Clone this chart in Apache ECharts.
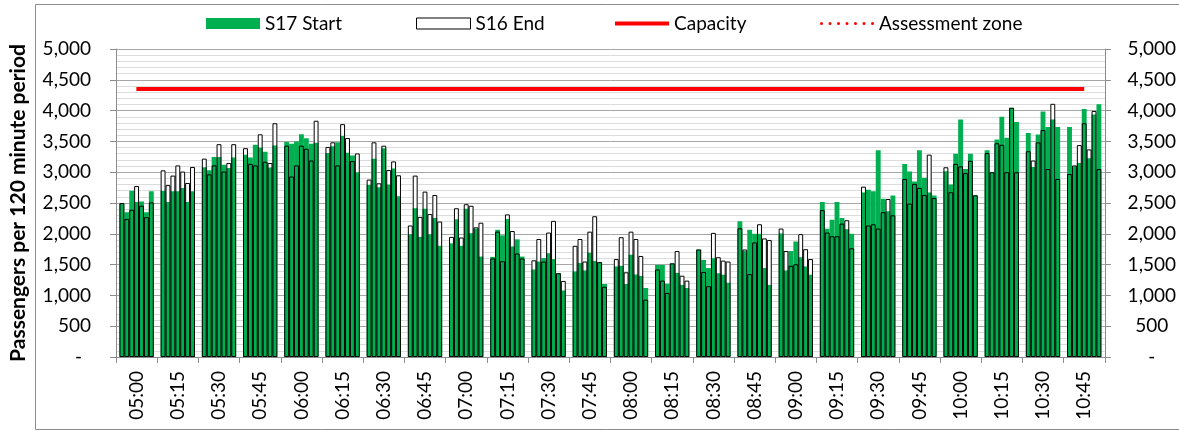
<!DOCTYPE html>
<html>
<head>
<meta charset="utf-8">
<script src="https://cdn.jsdelivr.net/npm/echarts@6/dist/echarts.min.js"></script>
<style>
  html, body { margin: 0; padding: 0; background: #fff; }
  #chart { width: 1179px; height: 431px; }
</style>
</head>
<body>
<div id="chart"></div>
<script>
// Quarter-hour slots on the time axis
const timeLabels = ['05:00','05:15','05:30','05:45','06:00','06:15','06:30','06:45',
                    '07:00','07:15','07:30','07:45','08:00','08:15','08:30','08:45',
                    '09:00','09:15','09:30','09:45','10:00','10:15','10:30','10:45'];

// Rolling 120-minute passenger totals, seven readings within each quarter-hour slot
const s17Start = [
  [2500, 2350, 2700, 2515, 2525, 2350, 2690],
  [2700, 2515, 2690, 2690, 2745, 2515, 2690],
  [3080, 3030, 3245, 3245, 3120, 3070, 3240],
  [3285, 3240, 3445, 3400, 3330, 3075, 3435],
  [3490, 3460, 3500, 3615, 3550, 3460, 3480],
  [3310, 3420, 3485, 3590, 3315, 3270, 3000],
  [2795, 3220, 2755, 3390, 2800, 3060, 2610],
  [1995, 2415, 1950, 2405, 1995, 2255, 1805],
  [1845, 2235, 1805, 2405, 2010, 2080, 1630],
  [1625, 2065, 1975, 2240, 1795, 1910, 1630],
  [1420, 1550, 1605, 1685, 1590, 1360, 1080],
  [1390, 1525, 1405, 1695, 1560, 1540, 1185],
  [1470, 1480, 1185, 1660, 1340, 1315, 1120],
  [1495, 1495, 1190, 1520, 1365, 1170, 1120],
  [1745, 1575, 1445, 1605, 1360, 1335, 1205],
  [2205, 1720, 2065, 2000, 2000, 1445, 1170],
  [2005, 1405, 1720, 1875, 1620, 1470, 1335],
  [2515, 2080, 2230, 2515, 2255, 2075, 2000],
  [2670, 2715, 2690, 3355, 2570, 2365, 2620],
  [3135, 3010, 2850, 3355, 2910, 2670, 2620],
  [3015, 2800, 3300, 3855, 3050, 3300, 2625],
  [3355, 3000, 3530, 3900, 3560, 4045, 3815],
  [3635, 3085, 3610, 3985, 3735, 3855, 3735],
  [3735, 3095, 3150, 4025, 3225, 3935, 4105]
];

const s16End = [
  [2500, 2240, 2390, 2775, 2455, 2270, 2510],
  [3030, 2790, 2945, 3110, 3010, 2825, 3085],
  [3220, 2965, 3110, 3455, 3010, 3150, 3455],
  [3390, 3135, 3110, 3615, 3170, 3150, 3795],
  [3430, 2930, 3110, 3430, 3380, 3190, 3835],
  [3410, 3485, 3110, 3780, 3555, 3180, 3305],
  [2880, 3485, 2820, 3430, 3035, 3175, 2950],
  [2135, 2945, 2275, 2685, 2320, 2630, 2200],
  [1950, 2415, 1940, 2480, 2455, 2105, 2180],
  [1600, 2035, 1555, 2315, 2045, 1680, 1600],
  [1570, 1915, 1550, 2020, 2210, 1360, 1235],
  [1805, 1915, 1550, 2035, 2285, 1540, 1140],
  [1590, 1945, 1375, 2035, 1915, 1640,  930],
  [1420, 1240, 1040, 1520, 1720, 1320, 1240],
  [1745, 1380, 1150, 2015, 1620, 1565, 1550],
  [2090, 1745, 1345, 1860, 2155, 1925, 1900],
  [2085, 1720, 1480, 1505, 1995, 1750, 1590],
  [2385, 2020, 1960, 1960, 2165, 2220, 1765],
  [2765, 2135, 2155, 2085, 2350, 2565, 2300],
  [2890, 2490, 2810, 2745, 2630, 3285, 2580],
  [3080, 2675, 3135, 3095, 2985, 3185, 2625],
  [3310, 3000, 3470, 3445, 3000, 4045, 3000],
  [3340, 3190, 3485, 3685, 3050, 4110, 2890],
  [2970, 3110, 3440, 3795, 3370, 3995, 3050]
];

const capacity = [4350, 4350, 4350, 4350, 4350, 4350, 4350, 4350, 4350, 4350, 4350, 4350,
                  4350, 4350, 4350, 4350, 4350, 4350, 4350, 4350, 4350, 4350, 4350, 4350];
const assessmentZone = [4350, 4350, 4350, 4350, 4350, 4350, 4350, 4350, 4350, 4350, 4350, 4350,
                        4350, 4350, 4350, 4350, 4350, 4350, 4350, 4350, 4350, 4350, 4350, 4350];

// Each reading sits at its own position inside the slot; bars touch each other.
const BAR_PITCH = 0.119; // share of a slot taken by one bar
function toPoints(rows) {
  const pts = [];
  rows.forEach((row, g) => {
    row.forEach((v, j) => {
      pts.push([g + 0.5 + (j - (row.length - 1) / 2) * BAR_PITCH, v]);
    });
  });
  return pts;
}

const FONT = 'Lato, "Liberation Sans", sans-serif';
const TEXT = { fontFamily: FONT, fontSize: 19, color: '#000' };
const AXIS_GREY = '#8c8c8c';

function fmtLeft(v) {
  if (v === 0) return '{d|-}';
  return v.toLocaleString('en-US');
}
function fmtRight(v) {
  if (v === 0) return '-';
  return v.toLocaleString('en-US');
}

const dotIcon = 'path://' + [0, 1, 2, 3, 4, 5, 6].map(i => {
  const cx = 1.5 + i * 8.5;
  return `M${cx - 1.5},1.5a1.5,1.5 0 1,0 3,0a1.5,1.5 0 1,0 -3,0Z`;
}).join(' ');

const legendBase = {
  orient: 'horizontal', padding: 0, itemGap: 0, itemWidth: 54,
  textStyle: Object.assign({}, TEXT), selectedMode: false
};

const chart = echarts.init(document.getElementById('chart'), null, { renderer: 'canvas' });

chart.setOption({
  animation: false,
  backgroundColor: '#fff',
  grid: { left: 116, right: 73, top: 49, bottom: 74, containLabel: false },
  graphic: [{
    type: 'rect', silent: true, z: -10,
    shape: { x: 35.5, y: 4.5, width: 1200, height: 425 },
    style: { fill: 'none', stroke: AXIS_GREY, lineWidth: 1 }
  }],
  legend: [
    Object.assign({}, legendBase, { left: 206, top: 14, itemHeight: 11, data: [{ name: 'S17 Start', icon: 'rect' }] }),
    Object.assign({}, legendBase, { left: 416, top: 14, itemHeight: 11,
      data: [{ name: 'S16 End', icon: 'rect', itemStyle: { color: '#fff', borderColor: '#000', borderWidth: 1 } }] }),
    Object.assign({}, legendBase, { left: 615, top: 14, itemHeight: 4, data: [{ name: 'Capacity', icon: 'rect' }] }),
    Object.assign({}, legendBase, { left: 820, top: 14, itemHeight: 3, data: [{ name: 'Assessment zone', icon: dotIcon }] })
  ],
  xAxis: [
    {
      type: 'value', min: 0, max: 24, show: false
    },
    {
      type: 'category', data: timeLabels, boundaryGap: true, position: 'bottom',
      axisLine: { show: true, lineStyle: { color: AXIS_GREY, width: 1 } },
      axisTick: { show: true, length: 6, alignWithLabel: false, lineStyle: { color: AXIS_GREY } },
      axisLabel: Object.assign({}, TEXT, { rotate: 90, interval: 0, margin: 14 }),
      splitLine: { show: false }
    }
  ],
  yAxis: [
    {
      type: 'value', min: 0, max: 5000, interval: 500, position: 'left',
      name: 'Passengers per 120 minute period',
      nameLocation: 'middle', nameRotate: 90, nameGap: 87,
      nameTextStyle: { fontFamily: FONT, fontSize: 21, fontWeight: 'bold', color: '#000' },
      axisLine: { show: true, lineStyle: { color: AXIS_GREY, width: 1 } },
      axisTick: { show: true, length: 6, lineStyle: { color: AXIS_GREY } },
      axisLabel: Object.assign({}, TEXT, { margin: 25, formatter: fmtLeft, rich: { d: Object.assign({}, TEXT, { padding: [0, 9, 0, 0] }) } }),
      splitLine: { show: true, lineStyle: { color: '#a6a6a6', width: 1 } },
      minorTick: { show: false, splitNumber: 5 },
      minorSplitLine: { show: true, lineStyle: { color: '#dcdcdc', width: 1 } }
    },
    {
      type: 'value', min: 0, max: 5000, interval: 500, position: 'right',
      axisLine: { show: true, lineStyle: { color: AXIS_GREY, width: 1 } },
      axisTick: { show: true, length: 6, lineStyle: { color: AXIS_GREY } },
      axisLabel: Object.assign({}, TEXT, { margin: 47, align: 'center', formatter: fmtRight }),
      splitLine: { show: false }
    }
  ],
  series: [
    {
      name: 'S16 End fill', type: 'bar', xAxisIndex: 0, yAxisIndex: 0,
      data: toPoints(s16End), barWidth: '100%', barGap: '-100%',
      itemStyle: { color: '#fff' }, silent: true, z: 2
    },
    {
      name: 'S17 Start', type: 'bar', xAxisIndex: 0, yAxisIndex: 0,
      data: toPoints(s17Start), barWidth: '100%', barGap: '-100%',
      itemStyle: { color: '#00B050' }, z: 3
    },
    {
      name: 'S16 End', type: 'bar', xAxisIndex: 0, yAxisIndex: 0,
      data: toPoints(s16End), barWidth: '100%', barGap: '-100%',
      itemStyle: { color: 'rgba(0,0,0,0)', borderColor: '#000', borderWidth: 1 }, z: 4
    },
    {
      name: 'Capacity', type: 'line', xAxisIndex: 1, yAxisIndex: 0,
      data: capacity, symbol: 'none',
      itemStyle: { color: '#ff0000' },
      lineStyle: { color: '#ff0000', width: 4 }, z: 5
    },
    {
      name: 'Assessment zone', type: 'line', xAxisIndex: 1, yAxisIndex: 0,
      data: assessmentZone, symbol: 'none',
      itemStyle: { color: '#ff0000' },
      lineStyle: { color: '#ff0000', width: 4, type: [3, 5.5] }, z: 6
    }
  ]
});
</script>
</body>
</html>
